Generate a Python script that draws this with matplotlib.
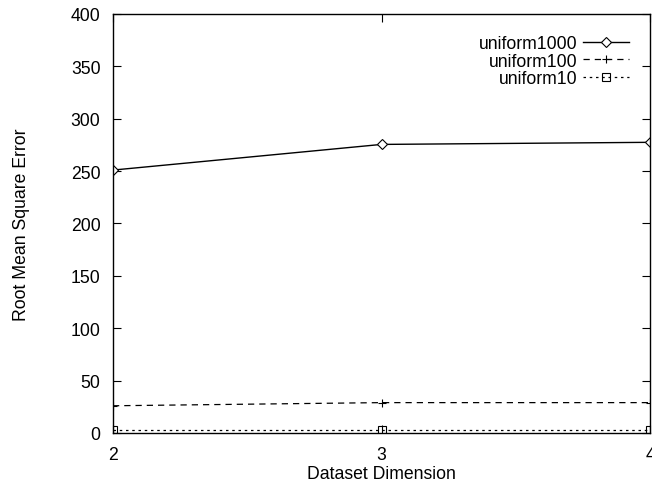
import matplotlib
matplotlib.use('Agg')
import matplotlib.pyplot as plt

plt.rcParams['font.family'] = ['Liberation Sans', 'DejaVu Sans']

dims = [2, 3, 4]
uniform1000 = [251, 275.5, 277.5]
uniform100 = [26, 29, 29]
uniform10 = [3, 3, 3]

fs = 12.7

fig = plt.figure(figsize=(6.52, 4.85), dpi=100)
ax = fig.add_axes([113/652, 1 - 434/485, (650-113)/652, (434-15)/485])

ax.plot(dims, uniform1000, '-', color='black', lw=1, marker='D', ms=5,
        mfc='white', mew=0.8, label='uniform1000')
ax.plot(dims, uniform100, '--', color='black', lw=0.9, marker='+', ms=6,
        mew=0.8, dashes=(5, 4), label='uniform100')
ax.plot(dims, uniform10, ':', color='black', lw=0.9, marker='s', ms=6,
        mfc='none', mew=0.8, dashes=(2, 3), label='uniform10')

ax.set_xlim(2, 4)
ax.set_ylim(0, 400)
ax.set_xticks(dims)
ax.set_yticks(range(0, 401, 50))
ax.tick_params(direction='in', top=True, right=True, length=6, labelsize=fs)
ax.tick_params(axis='y', pad=9)
ax.tick_params(axis='x', pad=9)
for s in ax.spines.values():
    s.set_linewidth(1)

ax.set_xlabel('Dataset Dimension', fontsize=fs, labelpad=2)
ax.set_ylabel('Root Mean Square Error', fontsize=fs, labelpad=29)

leg = ax.legend(loc='upper right', frameon=False, markerfirst=False,
                fontsize=fs, handlelength=2.6, handletextpad=0.3,
                labelspacing=0.04, borderaxespad=0, borderpad=0,
                bbox_to_anchor=(0.961, 0.95))
leg._legend_box.align = 'right'

fig.savefig('out.png', dpi=100)
